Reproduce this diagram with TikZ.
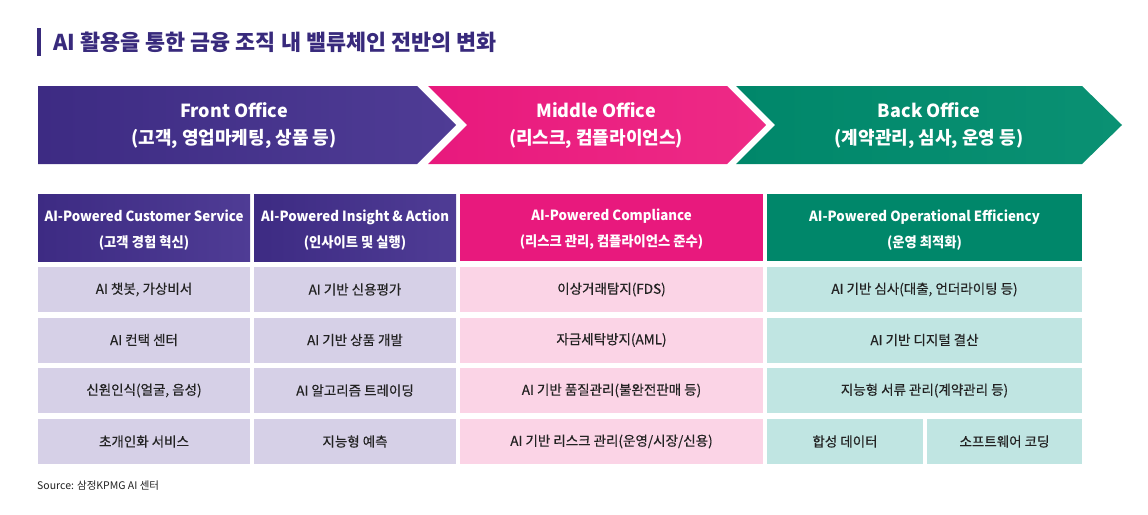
\documentclass[tikz,border=0pt]{standalone}
\usepackage{fontspec}
\setmainfont{Noto Sans CJK KR}
\newfontfamily\headfont[FakeStretch=0.95]{Noto Sans CJK KR}
\newfontfamily\cellfont[FakeBold=0.35]{Noto Sans CJK KR}
\usepackage{xcolor}
\usepackage{tikz}
\usetikzlibrary{positioning, calc}

\definecolor{frontdark}{HTML}{3D2B83}
\definecolor{frontlight}{HTML}{4F3C95}
\definecolor{midpink}{HTML}{E8197D}
\definecolor{midpinkB}{HTML}{EE2A86}
\definecolor{backgreen}{HTML}{00876A}
\definecolor{backgreenB}{HTML}{0A9173}
\definecolor{cellpurple}{HTML}{D6D0E7}
\definecolor{cellpink}{HTML}{FBD4E6}
\definecolor{cellteal}{HTML}{C0E5E2}
\definecolor{titlecol}{HTML}{382A7C}
\definecolor{bodytext}{HTML}{222222}

\newcommand{\headstrut}{\rule{0pt}{16pt}}

\begin{document}
\begin{tikzpicture}[x=1pt, y=-1pt,
  head/.style={inner sep=0pt, align=center, text=white,
               font=\headfont\fontsize{14}{26}\selectfont\bfseries},
  cell/.style={inner sep=0pt, align=center, text=bodytext,
               minimum height=45pt, font=\cellfont\fontsize{13.5}{16}\selectfont},
  office/.style={align=center, text=white,
                 font=\fontsize{18}{27}\selectfont\bfseries}
]
\useasboundingbox (0,0) rectangle (1148,514);

% title
\fill[titlecol] (37,28) rectangle (41,56);
\node[anchor=west, text=titlecol, font=\fontsize{21.8}{24}\selectfont\bfseries]
  (title) at (50,42) {AI 활용을 통한 금융 조직 내 밸류체인 전반의 변화};

% value chain arrows
\shade[left color=frontdark, right color=frontlight]
  (38,86) -- (417,86) -- (456,125) -- (417,164) -- (38,164) -- cycle;
\shade[left color=midpink, right color=midpinkB]
  (428,86) -- (727,86) -- (766,125) -- (727,164) -- (428,164) -- (467,125) -- cycle;
\shade[left color=backgreen, right color=backgreenB]
  (736,86) -- (1082,86) -- (1122,125) -- (1082,164) -- (736,164) -- (775,125) -- cycle;

\node[office] (front)  at (234,126) {Front Office\\(고객, 영업마케팅, 상품 등)};
\node[office] (middle) at (596,126) {Middle Office\\(리스크, 컴플라이언스)};
\node[office] (back)   at (929,126) {Back Office\\(계약관리, 심사, 운영 등)};

% header row
\node[head, minimum width=212pt, minimum height=67pt,
      left color=frontdark, right color=frontlight] (h1) at (144,227.5)
  {\headstrut AI-Powered Customer Service\\(고객 경험 혁신)};
\node[head, minimum width=202pt, minimum height=67pt,
      left color=frontdark, right color=frontlight] (h2) at (355,227.5)
  {\headstrut AI-Powered Insight \& Action\\(인사이트 및 실행)};
\node[head, minimum width=303pt, minimum height=67pt, fill=midpink] (h3) at (611.5,227.5)
  {\headstrut AI-Powered Compliance\\(리스크 관리, 컴플라이언스 준수)};
\node[head, minimum width=315pt, minimum height=67pt, fill=backgreen] (h4) at (924.5,227.5)
  {\headstrut AI-Powered Operational Efficiency\\(운영 최적화)};

% front office cells
\node[cell, fill=cellpurple, minimum width=212pt] (f1) at (144,289.5) {AI 챗봇, 가상비서};
\node[cell, fill=cellpurple, minimum width=212pt] (f2) at (144,340)   {AI 컨택 센터};
\node[cell, fill=cellpurple, minimum width=212pt] (f3) at (144,390.5) {신원인식(얼굴, 음성)};
\node[cell, fill=cellpurple, minimum width=212pt] (f4) at (144,441.5) {초개인화 서비스};

\node[cell, fill=cellpurple, minimum width=202pt] (i1) at (355,289.5) {AI 기반 신용평가};
\node[cell, fill=cellpurple, minimum width=202pt] (i2) at (355,340)   {AI 기반 상품 개발};
\node[cell, fill=cellpurple, minimum width=202pt] (i3) at (355,390.5) {AI 알고리즘 트레이딩};
\node[cell, fill=cellpurple, minimum width=202pt] (i4) at (355,441.5) {지능형 예측};

% middle office cells
\node[cell, fill=cellpink, minimum width=303pt] (m1) at (611.5,289.5) {이상거래탐지(FDS)};
\node[cell, fill=cellpink, minimum width=303pt] (m2) at (611.5,340)   {자금세탁방지(AML)};
\node[cell, fill=cellpink, minimum width=303pt] (m3) at (611.5,390.5) {AI 기반 품질관리(불완전판매 등)};
\node[cell, fill=cellpink, minimum width=303pt] (m4) at (611.5,441.5) {AI 기반 리스크 관리(운영/시장/신용)};

% back office cells
\node[cell, fill=cellteal, minimum width=315pt] (b1) at (924.5,289.5) {AI 기반 심사(대출, 언더라이팅 등)};
\node[cell, fill=cellteal, minimum width=315pt] (b2) at (924.5,340)   {AI 기반 디지털 결산};
\node[cell, fill=cellteal, minimum width=315pt] (b3) at (924.5,390.5) {지능형 서류 관리(계약관리 등)};
\node[cell, fill=cellteal, minimum width=156pt] (b4) at (845,441.5)   {합성 데이터};
\node[cell, fill=cellteal, minimum width=155pt] (b5) at (1004.5,441.5) {소프트웨어 코딩};

\node[anchor=west, inner sep=0pt, text=bodytext, font=\fontsize{10.5}{12}\selectfont]
  (source) at (37,486) {Source: 삼정KPMG AI 센터};
\end{tikzpicture}
\end{document}
